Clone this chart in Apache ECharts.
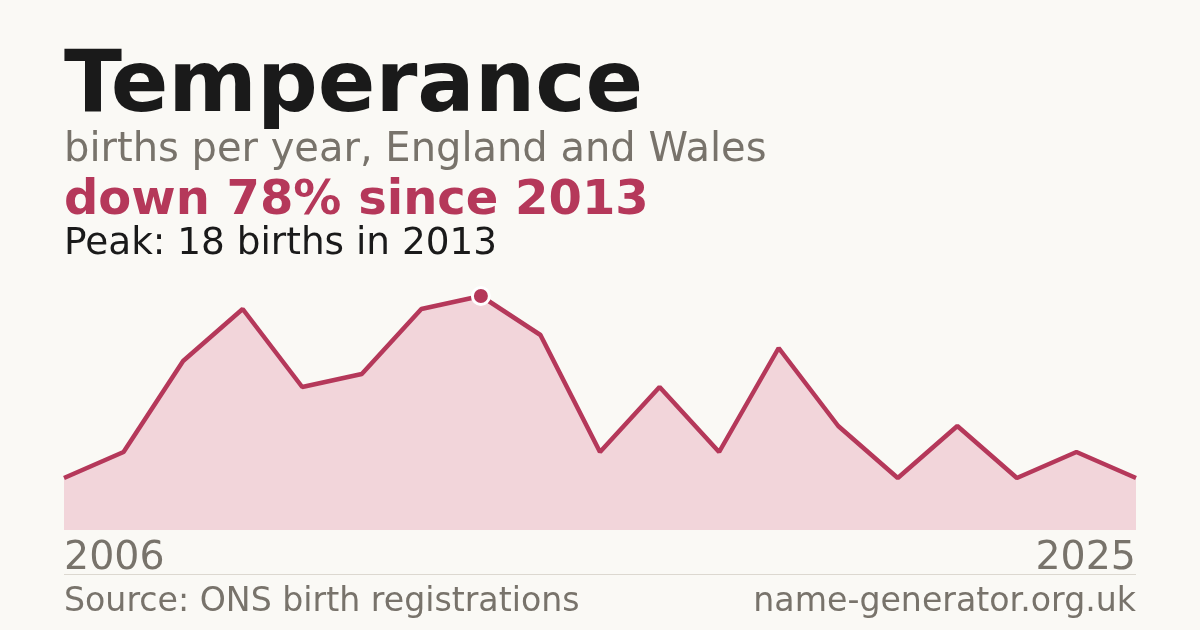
<!DOCTYPE html>
<html><head><meta charset="utf-8">
<script src="https://cdn.jsdelivr.net/npm/echarts@6/dist/echarts.min.js"></script>
<style>html,body{margin:0;padding:0;background:#faf9f5;}#c{width:1200px;height:630px;}</style>
</head><body><div id="c"></div>
<script>
const years = ['2006','2007','2008','2009','2010','2011','2012','2013','2014','2015','2016','2017','2018','2019','2021','2022','2023','2024','2025'];
const births = [4,6,13,17,11,12,17,18,15,6,11,6,14,8,4,8,4,6,4];
const peakIndex = 7;
const title = 'Temperance';
const subtitle = 'births per year, England and Wales';
const headline = 'down 78% since 2013';
const peakText = 'Peak: 18 births in 2013';
const source = 'Source: ONS birth registrations';
const site = 'name-generator.org.uk';

const FONT = 'DejaVu Sans';
const RED = '#b5385a';
const GRAY = '#78736b';
const chart = echarts.init(document.getElementById('c'));
chart.setOption({
  backgroundColor: '#faf9f5',
  animation: false,
  grid: {left: 64, right: 64, top: 296, bottom: 100},
  xAxis: {
    type: 'category', data: years, boundaryGap: false,
    axisLine: {show: false}, axisTick: {show: false}, splitLine: {show: false},
    axisLabel: {
      interval: (i) => i === 0 || i === years.length - 1,
      alignMinLabel: 'left', alignMaxLabel: 'right',
      color: GRAY, fontFamily: FONT, fontSize: 39.5, margin: 9
    }
  },
  yAxis: {type: 'value', min: 0, max: 18, show: false, splitLine: {show: false}},
  series: [{
    type: 'line', data: births.map((v, i) => i === peakIndex ? {value: v, symbol: 'circle', symbolSize: 17, itemStyle: {color: RED, borderColor: '#ffffff', borderWidth: 3}} : v),
    symbol: 'none', showSymbol: true, clip: false,
    lineStyle: {color: RED, width: 4.5},
    areaStyle: {color: '#f2d5da', opacity: 1},
    z: 2
  }],
  graphic: [
    {type: 'text', left: 64, top: 46, style: {text: title, font: 'bold 85px "DejaVu Sans"', fill: '#1a1a1a'}},
    {type: 'text', left: 64, top: 130.5, style: {text: subtitle, font: '40px "DejaVu Sans"', fill: GRAY}},
    {type: 'text', left: 64, top: 178, style: {text: headline, font: 'bold 48px "DejaVu Sans"', fill: RED}},
    {type: 'text', left: 64, top: 226, style: {text: peakText, font: '37.4px "DejaVu Sans"', fill: '#1a1a1a'}},
    {type: 'line', shape: {x1: 64, y1: 574.5, x2: 1136, y2: 574.5}, style: {stroke: '#dcd8d0', lineWidth: 1}},
    {type: 'text', left: 64, top: 585.5, style: {text: source, font: '33.2px "DejaVu Sans"', fill: GRAY}},
    {type: 'text', right: 64, top: 585.5, style: {text: site, font: '33.2px "DejaVu Sans"', fill: GRAY}}
  ]
});
</script></body></html>
